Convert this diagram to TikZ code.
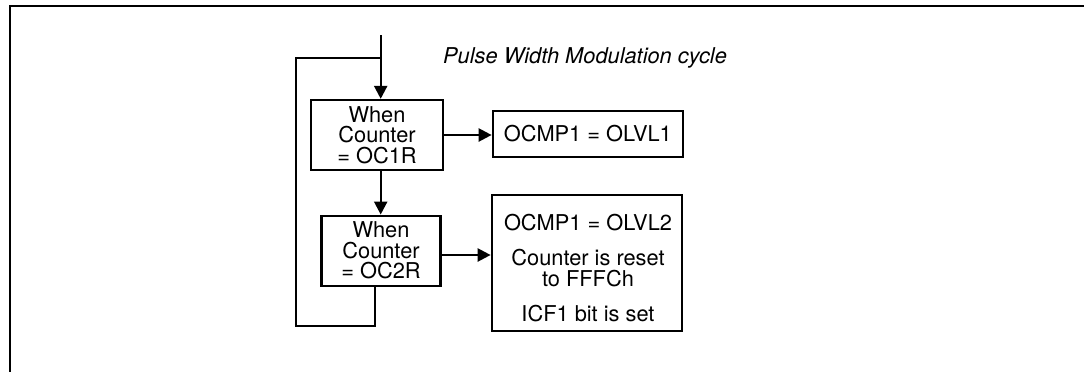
\documentclass[tikz,border=0pt]{standalone}
\usepackage{fontspec}
\setmainfont{TeX Gyre Heros}
\usetikzlibrary{arrows.meta}
\begin{document}
\begin{tikzpicture}[x=1pt,y=-1pt,
  ln/.style={line width=2.3pt},
  txt/.style={font=\fontsize{21.8}{20.5}\selectfont},
  box/.style={draw,line width=2.3pt,inner sep=0pt,align=center,txt},
  arr/.style={line width=2.3pt,-{Triangle[length=13pt,width=13pt]}}]
\useasboundingbox (0,0) rectangle (1084,372);
% frame
\draw[ln] (10,372) -- (10,6) -- (1084,6);
% nodes
\node[box,minimum width=132pt,minimum height=70pt] (b1) at (377,135) {When\\Counter\\= OC1R};
\node[box,minimum width=119pt,minimum height=70pt] (b2) at (381,250.7) {When\\Counter\\= OC2R};
\node[box,minimum width=190pt,minimum height=46pt] (o1) at (587.8,134) {OCMP1 = OLVL1};
\node[box,minimum width=190pt,minimum height=136pt] (o2) at (586.8,263.2) {};
\node[txt,align=center,inner sep=0pt] (o2t) at (588,268) {OCMP1 = OLVL2\\[15pt]Counter is reset\\to FFFCh\\[15pt]ICF1 bit is set};
\node[font=\fontsize{21.8}{20.5}\selectfont\itshape,anchor=base west,inner sep=0pt] (lbl) at (443,63.3) {Pulse Width Modulation cycle};
% coordinates
\coordinate (in) at (380.7,35);
\coordinate (lt) at (296,58);
\coordinate (lb) at (296,325.7);
\coordinate (lx) at (375.3,0);
\coordinate (a2) at (0,255);
% connectors
\draw[arr] (in) -- (in |- b1.north);
\draw[arr] (in |- b1.south) -- (in |- b2.north);
\draw[ln] (b2.south -| lx) -- (lx |- lb) -- (lb) -- (lt) -- (lt -| in);
\draw[arr] (b1.east) -- (b1.east -| o1.west);
\draw[arr] (b2.east |- a2) -- (o2.west |- a2);
\end{tikzpicture}
\end{document}
